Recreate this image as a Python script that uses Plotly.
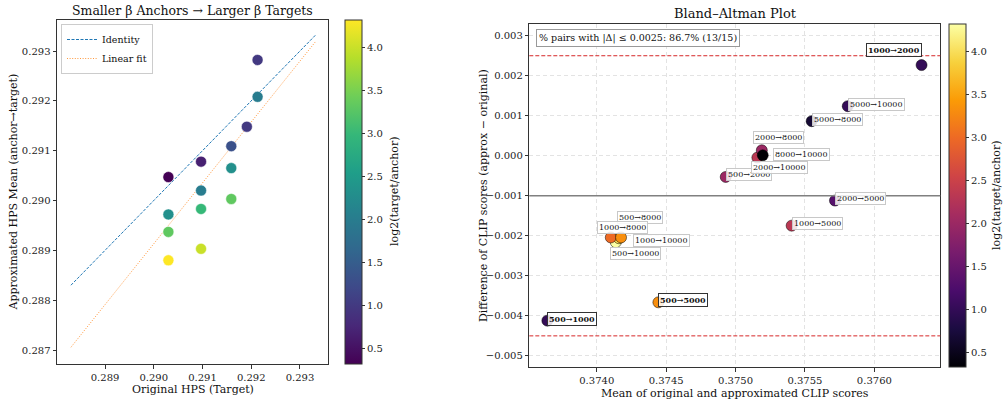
import numpy as np
import plotly.graph_objects as go

# ---------------- Left panel data ----------------
left_anchor = [8000, 2000, 1000, 500,
               5000, 2000, 1000, 500,
               2000, 1000, 500,
               500, 1000, 500]
left_target = [10000, 10000, 10000, 10000,
               8000, 8000, 8000, 8000,
               5000, 5000, 5000,
               1000, 2000, 2000]
hps_original = [0.29030, 0.29030, 0.29030, 0.29030,
                0.29097, 0.29097, 0.29097, 0.29097,
                0.29159, 0.29159, 0.29159,
                0.29191, 0.29213, 0.29213]
hps_approx = [0.29047, 0.28972, 0.28937, 0.28880,
              0.29078, 0.29020, 0.28983, 0.28903,
              0.29109, 0.29065, 0.29003,
              0.29148, 0.29282, 0.29208]
fit_slope = 1.2218
fit_intercept = -0.06519

# ---------------- Right panel data ----------------
ba_pairs = ["500→1000", "500→2000", "500→5000", "500→10000", "500→8000",
            "1000→8000", "1000→10000", "1000→2000", "1000→5000", "2000→5000",
            "2000→10000", "2000→8000", "8000→10000", "5000→8000", "5000→10000"]
ba_mean = [0.373644, 0.374929, 0.374444, 0.374137, 0.374160,
           0.374101, 0.374175, 0.376340, 0.375404, 0.375716,
           0.375157, 0.375189, 0.375196, 0.375548, 0.375808]
ba_diff = [-0.004125, -0.000541, -0.003668, -0.002170, -0.002070,
           -0.002050, -0.002050, 0.002250, -0.001756, -0.001130,
           -0.000057, 0.000125, 0.000000, 0.000850, 0.001224]
tolerance = 0.0025
bold_pairs = ["500→1000", "500→5000", "1000→2000"]

FONT = "DejaVu Serif"
W, H = 1003, 402

def px_x(p):
    return p / W

def px_y(p):
    return 1 - p / H

left_log2 = np.log2(np.array(left_target) / np.array(left_anchor))
ba_log2 = [np.log2(int(p.split("→")[1]) / int(p.split("→")[0])) for p in ba_pairs]

fig = go.Figure()

# Identity & fit lines
all_vals = hps_original + hps_approx
lo, hi = min(all_vals) - 0.0005, max(all_vals) + 0.0005
fig.add_trace(go.Scatter(x=[lo, hi], y=[lo, hi], mode="lines", name="Identity",
                         line=dict(color="#1f77b4", dash="3px,1.5px", width=1),
                         xaxis="x", yaxis="y"))
fig.add_trace(go.Scatter(x=[lo, hi], y=[fit_slope * lo + fit_intercept, fit_slope * hi + fit_intercept],
                         mode="lines", name="Linear fit",
                         line=dict(color="#ff7f0e", dash="1px,1.6px", width=1),
                         opacity=0.8, xaxis="x", yaxis="y"))

cbar_common = dict(lenmode="fraction", thickness=17, outlinewidth=1, outlinecolor="#333",
                   xpad=0, ypad=0,
                   tickmode="linear", tick0=0.5, dtick=0.5, tickformat=".1f",
                   ticks="outside", ticklen=3, tickcolor="#333",
                   tickfont=dict(family=FONT, size=10, color="#222"))

fig.add_trace(go.Scatter(
    x=hps_original, y=hps_approx, mode="markers", showlegend=False,
    marker=dict(size=11, color=left_log2, colorscale="Viridis",
                cmin=float(np.log2(1.25)), cmax=float(np.log2(20)),
                line=dict(color="white", width=0.5),
                colorbar=dict(x=px_x(345), xanchor="left", y=px_y(20), yanchor="top",
                              len=344 / H, **cbar_common)),
    xaxis="x", yaxis="y"))

fig.add_trace(go.Scatter(
    x=ba_mean, y=ba_diff, mode="markers", showlegend=False,
    marker=dict(size=11, color=ba_log2, colorscale="Inferno",
                cmin=float(np.log2(1.25)), cmax=float(np.log2(20)),
                line=dict(color="black", width=0.5),
                colorbar=dict(x=px_x(949), xanchor="left", y=px_y(24.3), yanchor="top",
                              len=343 / H, **cbar_common)),
    xaxis="x2", yaxis="y2"))

mean_d = float(np.mean(ba_diff))
sd_d = float(np.std(ba_diff, ddof=1))
shapes = [
    dict(type="line", xref="x2 domain", yref="y2", x0=0, x1=1, y0=mean_d, y1=mean_d,
         line=dict(color="#808080", width=1.5)),
    dict(type="line", xref="x2 domain", yref="y2", x0=0, x1=1,
         y0=mean_d + 1.96 * sd_d, y1=mean_d + 1.96 * sd_d,
         line=dict(color="#d62728", width=1, dash="4px,2px")),
    dict(type="line", xref="x2 domain", yref="y2", x0=0, x1=1,
         y0=mean_d - 1.96 * sd_d, y1=mean_d - 1.96 * sd_d,
         line=dict(color="#d62728", width=1, dash="4px,2px")),
]

# label placement (style only): xanchor, yanchor, xshift, yshift
label_style = {
    "1000→2000": ("right", "bottom", 0, 8),
    "8000→10000": ("left", "middle", 10, 1),
    "2000→8000": ("left", "bottom", -9, 6),
    "2000→10000": ("left", "top", -6, -3),
    "500→8000": ("left", "bottom", -2, 14),
    "1000→8000": ("left", "bottom", -14, 3),
    "1000→10000": ("left", "middle", 12, -3),
    "500→10000": ("left", "top", -6, -5),
}
annotations = []
for p, mx, dy in zip(ba_pairs, ba_mean, ba_diff):
    xa, ya, xs, ys = label_style.get(p, ("left", "middle", 0, 2))
    bold = p in bold_pairs
    annotations.append(dict(
        x=mx, y=dy, xref="x2", yref="y2", text=f"<b>{p}</b>" if bold else p,
        showarrow=False, xanchor=xa, yanchor=ya, xshift=xs, yshift=ys,
        font=dict(family=FONT, size=8, color="#111"),
        bgcolor="rgba(255,255,255,0.85)", bordercolor="#333" if bold else "#c8c8c8",
        borderwidth=1, borderpad=1))

n_in = int(np.sum(np.abs(np.array(ba_diff)) <= tolerance))
n_all = len(ba_diff)
annotations.append(dict(
    x=px_x(536), y=px_y(29), xref="paper", yref="paper", xanchor="left", yanchor="top",
    text=f"% pairs with |Δ| ≤ {tolerance}: {100 * n_in / n_all:.1f}% ({n_in}/{n_all})",
    showarrow=False, font=dict(family=FONT, size=9.5, color="#111"),
    bgcolor="white", bordercolor="#999", borderwidth=1, borderpad=2))

# titles
annotations += [
    dict(x=px_x(192.5), y=px_y(10), xref="paper", yref="paper", text="Smaller β Anchors → Larger β Targets",
         showarrow=False, xanchor="center", yanchor="middle", font=dict(family=FONT, size=12.5, color="#111")),
    dict(x=px_x(735), y=px_y(14), xref="paper", yref="paper", text="Bland–Altman Plot",
         showarrow=False, xanchor="center", yanchor="middle", font=dict(family=FONT, size=13, color="#111")),
    dict(x=px_x(192.5), y=px_y(389), xref="paper", yref="paper", text="Original HPS (Target)",
         showarrow=False, xanchor="center", yanchor="middle", font=dict(family=FONT, size=11, color="#111")),
    dict(x=px_x(12.5), y=px_y(192), xref="paper", yref="paper", text="Approximated HPS Mean (anchor→target)",
         showarrow=False, xanchor="center", yanchor="middle", textangle=-90,
         font=dict(family=FONT, size=11, color="#111")),
    dict(x=px_x(735), y=px_y(393), xref="paper", yref="paper", text="Mean of original and approximated CLIP scores",
         showarrow=False, xanchor="center", yanchor="middle", font=dict(family=FONT, size=11, color="#111")),
    dict(x=px_x(483), y=px_y(196), xref="paper", yref="paper", text="Difference of CLIP scores (approx − original)",
         showarrow=False, xanchor="center", yanchor="middle", textangle=-90,
         font=dict(family=FONT, size=11, color="#111")),
    dict(x=px_x(394), y=px_y(192), xref="paper", yref="paper", text="log2(target/anchor)",
         showarrow=False, xanchor="center", yanchor="middle", textangle=-90,
         font=dict(family=FONT, size=11, color="#111")),
    dict(x=px_x(996), y=px_y(196), xref="paper", yref="paper", text="log2(target/anchor)",
         showarrow=False, xanchor="center", yanchor="middle", textangle=-90,
         font=dict(family=FONT, size=11, color="#111")),
]

axis_common = dict(showline=True, linecolor="#333", linewidth=1, mirror=True,
                   ticks="outside", ticklen=3.5, tickcolor="#333",
                   tickfont=dict(family=FONT, size=10, color="#222"), zeroline=False)

fig.update_layout(
    width=W, height=H, margin=dict(l=0, r=0, t=0, b=0, autoexpand=False),
    paper_bgcolor="white", plot_bgcolor="white",
    xaxis=dict(domain=[px_x(57), px_x(328)], range=[0.288014, 0.293575],
               tickvals=[0.289, 0.290, 0.291, 0.292, 0.293], tickformat=".3f",
               showgrid=False, anchor="y", **axis_common),
    yaxis=dict(domain=[px_y(364), px_y(20)], range=[0.286719, 0.293622],
               tickvals=[0.287, 0.288, 0.289, 0.290, 0.291, 0.292, 0.293], tickformat=".3f",
               showgrid=False, anchor="x", **axis_common),
    xaxis2=dict(domain=[px_x(529.3), px_x(940.3)], range=[0.373514, 0.376475],
                tickvals=[0.3740, 0.3745, 0.3750, 0.3755, 0.3760], tickformat=".4f",
                showgrid=True, gridcolor="#e3e3e3", griddash="4px,3px", gridwidth=1,
                anchor="y2", **axis_common),
    yaxis2=dict(domain=[px_y(367.3), px_y(24.3)], range=[-0.005289, 0.003267],
                tickvals=[-0.005, -0.004, -0.003, -0.002, -0.001, 0.0, 0.001, 0.002, 0.003],
                tickformat=".3f", showgrid=True, gridcolor="#e3e3e3", griddash="4px,3px", gridwidth=1,
                anchor="x2", **axis_common),
    legend=dict(x=px_x(61), y=px_y(24), xanchor="left", yanchor="top",
                bgcolor="rgba(255,255,255,0.9)", bordercolor="#ccc", borderwidth=1,
                font=dict(family=FONT, size=9.5, color="#111"), tracegroupgap=0,
                itemwidth=30),
    shapes=shapes, annotations=annotations, showlegend=True,
)

fig.write_html("out.html")
